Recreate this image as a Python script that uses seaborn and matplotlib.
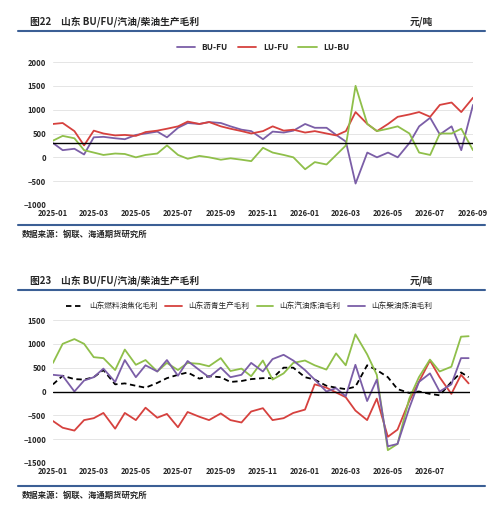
import matplotlib
matplotlib.use("Agg")
import matplotlib.pyplot as plt
import seaborn as sns
import pandas as pd
import matplotlib.dates as mdates

sns.set_theme(style="white")
plt.rcParams['font.family'] = ['Noto Sans CJK SC', 'DejaVu Sans']

dates_top = pd.date_range("2025-01-01", periods=41, freq="SMS")
bu_fu = [300,150,180,60,420,430,400,380,470,500,540,420,620,720,700,740,720,650,580,550,380,540,520,560,700,620,620,470,330,-550,100,0,100,0,300,650,830,480,650,150,1100]
lu_fu = [700,720,550,250,560,500,460,470,450,530,560,600,650,750,700,740,650,600,550,500,550,650,560,580,520,550,500,460,550,950,700,550,700,850,900,950,850,1100,1150,950,1250]
lu_bu = [350,450,400,150,100,50,80,70,0,50,80,250,50,-30,30,0,-50,-20,-50,-80,200,100,50,0,-250,-100,-150,50,250,1500,700,550,600,650,500,100,50,500,500,600,150]

dates_bot = list(pd.date_range("2025-01-01", periods=40, freq="SMS")) + [pd.Timestamp("2026-08-26")]
fuel_coking = [150,330,260,250,300,450,150,170,120,80,180,280,350,400,270,320,300,200,220,260,280,280,500,500,300,250,120,80,50,100,550,450,300,50,-30,0,-50,-80,200,400,300]
asphalt = [-620,-760,-820,-600,-560,-450,-780,-450,-600,-340,-550,-470,-750,-430,-530,-600,-460,-600,-650,-420,-350,-600,-560,-450,-380,150,80,-20,-120,-400,-600,-150,-950,-800,-200,200,650,300,-50,350,170]
gasoline = [600,1000,1100,1000,720,700,450,880,560,660,420,600,450,600,580,530,700,430,480,320,650,250,380,600,650,550,460,800,550,1200,780,350,-1230,-1100,-150,300,670,420,520,1150,1160]
diesel = [350,330,0,230,300,480,200,660,300,550,420,660,330,640,450,300,500,300,350,600,420,680,770,650,450,250,0,70,-100,560,-200,250,-1150,-1100,-350,200,380,0,150,700,700]

top = pd.DataFrame({"date": dates_top, "BU-FU": bu_fu, "LU-FU": lu_fu, "LU-BU": lu_bu})
bot = pd.DataFrame({"date": dates_bot, "山东燃料油焦化毛利": fuel_coking, "山东沥青生产毛利": asphalt,
                    "山东汽油炼油毛利": gasoline, "山东柴油炼油毛利": diesel})

PURPLE, RED, GREEN = "#7b5ea7", "#d6413e", "#8fbf4a"
W, H = 495, 515
fig = plt.figure(figsize=(4.95, 5.15), dpi=100)

def ax_rect(l, t, r, b):
    return [l / W, 1 - b / H, (r - l) / W, (b - t) / H]

def header(title, ytitle, yline, yfoot):
    fig.text(30 / W, 1 - ytitle / H, title, fontsize=7, fontweight="bold", va="center")
    fig.text(410 / W, 1 - ytitle / H, "元/吨", fontsize=7, fontweight="bold", va="center")
    fig.add_artist(plt.Line2D([18 / W, 485 / W], [1 - yline / H] * 2, color="#3b5f95", lw=1.5))
    fig.add_artist(plt.Line2D([18 / W, 485 / W], [1 - yfoot / H] * 2, color="#3b5f95", lw=1.5))
    fig.text(22 / W, 1 - (yfoot + 9) / H, "数据来源：钢联、海通期货研究所", fontsize=6, fontweight="bold", va="center")

header("图22　山东 BU/FU/汽油/柴油生产毛利", 22, 31, 225)
header("图23　山东 BU/FU/汽油/柴油生产毛利", 281, 290, 486)

ax1 = fig.add_axes(ax_rect(53, 62, 473, 205))
for col, c in [("BU-FU", PURPLE), ("LU-FU", RED), ("LU-BU", GREEN)]:
    sns.lineplot(data=top, x="date", y=col, ax=ax1, color=c, lw=1.3, label=col)
ax1.axhline(300, color="black", lw=1)
ax1.set_ylim(-1000, 2000)
ax1.set_yticks(range(-1000, 2001, 500))
ax1.set_xlim(pd.Timestamp("2025-01-01"), pd.Timestamp("2026-09-01"))
ax1.set_xticks(pd.date_range("2025-01-01", "2026-09-01", freq="2MS"))

ax2 = fig.add_axes(ax_rect(53, 320, 470, 463))
styles = [("山东燃料油焦化毛利", "black", (0, (3, 2))), ("山东沥青生产毛利", RED, "-"),
          ("山东汽油炼油毛利", GREEN, "-"), ("山东柴油炼油毛利", PURPLE, "-")]
for col, c, ls in styles:
    sns.lineplot(data=bot, x="date", y=col, ax=ax2, color=c, lw=1.3, linestyle=ls, label=col)
ax2.axhline(0, color="black", lw=1)
ax2.set_ylim(-1500, 1500)
ax2.set_yticks(range(-1500, 1501, 500))
ax2.set_xlim(pd.Timestamp("2025-01-01"), pd.Timestamp("2026-08-28"))
ax2.set_xticks(pd.date_range("2025-01-01", "2026-07-01", freq="2MS"))

for ax in (ax1, ax2):
    ax.xaxis.set_major_formatter(mdates.DateFormatter("%Y-%m"))
    ax.set_xlabel(""); ax.set_ylabel("")
    ax.grid(axis="y", color="#e0e0e0", lw=0.6)
    for s in ax.spines.values():
        s.set_visible(False)
    ax.tick_params(axis="y", labelsize=5.5, length=0, pad=5)
    ax.tick_params(axis="x", labelsize=5.5, length=0, pad=3)
    for t in ax.get_xticklabels() + ax.get_yticklabels():
        t.set_fontweight("bold")

ax1.legend(loc="lower center", bbox_to_anchor=(0.5, 1.02), ncol=3, frameon=False,
           handlelength=2.2, columnspacing=1.2, prop={"weight": "bold", "size": 6})
ax2.legend(loc="lower center", bbox_to_anchor=(0.47, 1.02), ncol=4, frameon=False,
           handlelength=2.2, columnspacing=1.0, prop={"size": 5.5})

fig.savefig("out.png", dpi=100)
